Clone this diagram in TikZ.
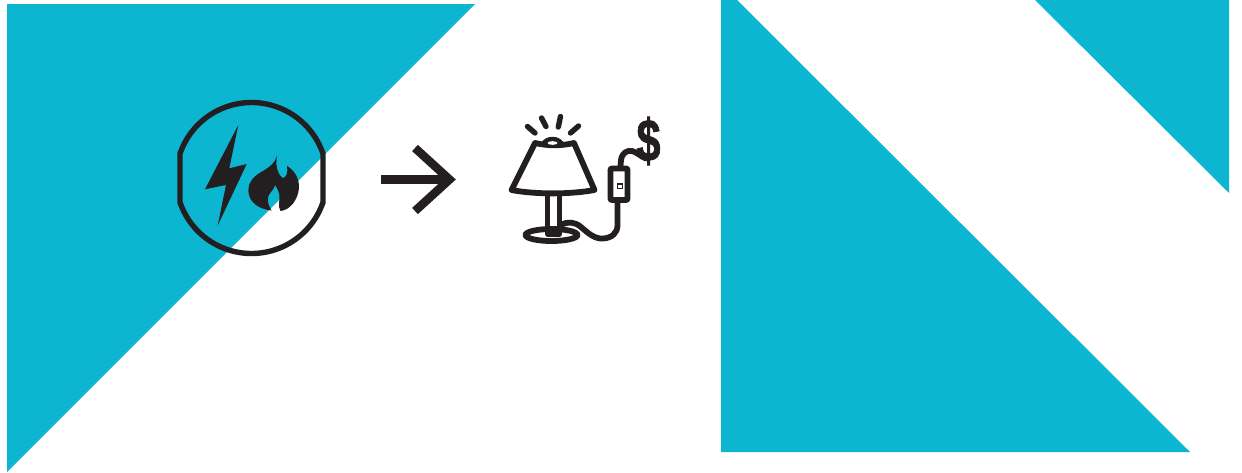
\documentclass[tikz,border=0pt]{standalone}
\usepackage{fontspec}
\setmainfont{Liberation Sans}
\newfontfamily\dollarfont[BoldFeatures={FakeBold=1.5}]{Liberation Sans}
\definecolor{tealc}{HTML}{0CB6D1}
\definecolor{inkc}{HTML}{231F20}
\tikzset{
  tri/.style={fill=tealc,draw=none},
  inkline/.style={draw=inkc,line width=#1,line cap=round,line join=round},
  inkline/.default=5.8pt,
  inkfill/.style={fill=inkc,draw=none}
}
\begin{document}
\begin{tikzpicture}[x=1pt,y=-1pt]
\useasboundingbox (0,0) rectangle (1242,472);
\fill[white] (0,0) rectangle (1242,472);
% triangles
\path[tri] (7,4) -- (475,4) -- (7,472) -- cycle;
\path[tri] (721,0) -- (737,0) -- (1190,452) -- (721,452) -- cycle;
\path[tri] (1035,0) -- (1229,0) -- (1229,193) -- cycle;
% badge
\draw[inkline=5.4pt,fill=none] plot[smooth,samples=60,domain=19:161] ({251.5+75.5*cos(\x)},{178-75.5*sin(\x)})
  -- (180,153) -- (180,203)
  -- plot[smooth,samples=60,domain=199:341] ({251.5+75.5*cos(\x)},{178-75.5*sin(\x)})
  -- (323,203) -- (323,153) -- cycle;
% bolt
\path[inkfill] (238.3,125) -- (205,189.3) -- (226,185) -- (217.7,225.5) -- (246.7,164) -- (229.3,168.3) -- cycle;
% flame
\path[inkfill] (276.7,155)
  .. controls (276,163) and (268,168) .. (262,171.5)
  .. controls (252,177) and (248,184) .. (248.3,191)
  .. controls (249,202) and (258,209) .. (271.5,210.5)
  .. controls (268,205) and (267,200) .. (268.5,196)
  .. controls (270,192) and (274,190) .. (275,185)
  .. controls (277,188) and (280,193) .. (279.5,198)
  .. controls (279.3,203) and (278,206) .. (280.5,211)
  .. controls (290,210) and (298,200) .. (299,188)
  .. controls (299.5,178) and (294,170) .. (287,166)
  .. controls (288,172) and (287,177) .. (283,178)
  .. controls (279,176) and (277,170) .. (276.5,165)
  .. controls (276.3,162) and (276.8,158) .. (276.7,155) -- cycle;
% arrow
\draw[draw=inkc,line width=9pt] (381,179.5) -- (450,179.5);
\draw[draw=inkc,line width=8.5pt,miter limit=10] (415,148) -- (449.5,179.5) -- (415,211);
% rays
\draw[inkline=5.4pt] (527.5,126.5) -- (535,133);
\draw[inkline=5.4pt] (541.5,118) -- (546,126.5);
\draw[inkline=5.4pt] (560.5,116.5) -- (558.3,127);
\draw[inkline=5.4pt] (578.5,126) -- (570.5,133);
% shade
\draw[inkline] (535,143) .. controls (548,146) and (561,146) .. (574,143)
  -- (594.5,190) .. controls (570,194.5) and (535,194.5) .. (511.5,190) -- cycle;
% bulb
\path[inkfill] (540,145) .. controls (544,134) and (561,134) .. (565,145) -- cycle;
\fill[white] (552.5,143) ellipse [x radius=5, y radius=1.8];
% stem
\draw[draw=inkc,line width=5.4pt,line join=round] (547.5,195) -- (547.5,234) -- (559.2,234) -- (559.2,195);
% base
\draw[inkline] (551.5,235) ellipse [x radius=26, y radius=6];
% cord
\draw[inkline] (561,225) .. controls (568,221) and (575,222) .. (581,227)
  .. controls (589,234) and (595,239) .. (603,238.5)
  .. controls (612,238) and (617.5,233) .. (617.5,225) -- (617.5,202);
\draw[inkline] (620.5,166) -- (621,160) .. controls (622,153) and (627,150) .. (632,151)
  .. controls (637,152) and (641,157) .. (646,158.5);
% switch
\draw[inkline,fill=white,rounded corners=1pt] (610.5,168.5) rectangle (627.5,200);
\draw[draw=inkc,line width=1pt,fill=white] (617,183) rectangle (622.3,188.5);
\fill[inkc] (617,183) rectangle (622.3,185.3);
% dollar
\node[inner sep=0pt,text=inkc,xscale=0.92,yscale=1.26,font=\fontsize{47}{47}\dollarfont\bfseries] (dollar) at (648.5,141) {\$};
\end{tikzpicture}
\end{document}
